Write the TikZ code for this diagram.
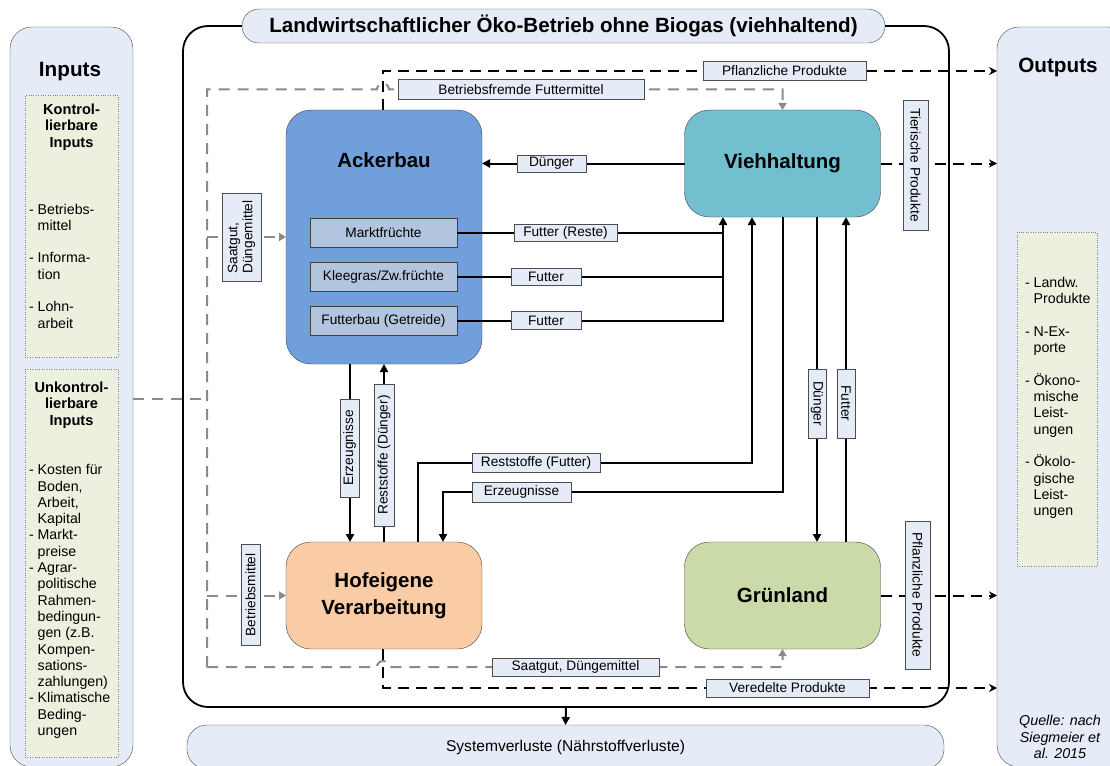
\documentclass[tikz,border=0pt]{standalone}
\usepackage{fontspec}
\setmainfont{Liberation Sans}
\usetikzlibrary{arrows.meta}
\definecolor{panelblue}{RGB}{229,236,247}
\definecolor{notegreen}{RGB}{235,241,222}
\definecolor{ackerblue}{RGB}{113,159,219}
\definecolor{subblue}{RGB}{179,196,222}
\definecolor{viehteal}{RGB}{114,191,208}
\definecolor{hofpeach}{RGB}{250,204,165}
\definecolor{gruengreen}{RGB}{202,218,168}
\definecolor{flowgray}{RGB}{138,138,138}
\newcommand{\subln}{\hphantom{- }}
\tikzset{
    panel/.style={draw=black!70, fill=panelblue, rounded corners=22pt},
    note/.style={draw=black!50, dotted, fill=notegreen},
    unit/.style={draw=black!75, rounded corners=25pt, minimum width=196pt, align=center, font=\fontsize{20.5}{27}\selectfont\bfseries},
    sub/.style={draw=black!75, fill=subblue, minimum width=147pt, minimum height=29pt, font=\fontsize{13.7}{16}\selectfont},
    lbl/.style={draw=black!70, fill=panelblue, inner sep=1pt, align=left, font=\fontsize{13.7}{15}\selectfont},
    listfont/.style={font=\fontsize{14.2}{16.3}\selectfont, align=left, inner sep=0pt},
    flow/.style={line width=2pt},
    flowarr/.style={flow, -{Triangle[length=8pt,width=8pt]}},
    outarr/.style={flow, dash pattern=on 11pt off 7pt, -{Stealth[length=8pt,width=8pt]}},
    grayflow/.style={flowgray, line width=2pt, dash pattern=on 11pt off 8pt},
    grayarr/.style={grayflow, -{Triangle[length=7pt,width=8pt]}}
}

\begin{document}
\begin{tikzpicture}[x=1pt,y=-1pt,every node/.append style={outer sep=0pt}]
\useasboundingbox (0,0) rectangle (1110,765);
\clip (0,0) rectangle (1110,765);

% Inputs and Outputs
\node (inputs) at (71.5,397) [panel, minimum width=123pt, minimum height=740pt] {};
\node (outputs) at (1063.5,397) [panel, minimum width=133pt, minimum height=740pt] {};
\node (inputsT) at (70,72) [font=\fontsize{20.7}{24}\selectfont\bfseries] {Inputs};
\node (outputsT) at (1058,67) [font=\fontsize{20.7}{24}\selectfont\bfseries] {Outputs};
\node (kontr) at (71.5,226) [note, minimum width=93pt, minimum height=262pt] {};
\node (unkontr) at (71.5,563) [note, minimum width=93pt, minimum height=388pt] {};
\node (outbox) at (1057,399) [note, minimum width=80pt, minimum height=334pt] {};
\node (kontrT) at (71.5,127) [font=\fontsize{14.6}{16.5}\selectfont\bfseries, align=center] {Kontrol-\\lierbare\\Inputs};
\node (unkontrT) at (71.5,405) [font=\fontsize{14.6}{16.5}\selectfont\bfseries, align=center] {Unkontrol-\\lierbare\\Inputs};
\node (kontrL) at (29,266) [anchor=west, listfont] {- Betriebs-\\\subln mittel\\[16.3pt]- Informa-\\\subln tion\\[16.3pt]- Lohn-\\\subln arbeit};
\node (unkontrL) at (29,601.5) [anchor=west, listfont] {- Kosten für\\\subln Boden,\\\subln Arbeit,\\\subln Kapital\\- Markt-\\\subln preise\\- Agrar-\\\subln politische\\\subln Rahmen-\\\subln bedingun-\\\subln gen (z.B.\\\subln Kompen-\\\subln sations-\\\subln zahlungen)\\- Klimatische\\\subln Beding-\\\subln ungen};
\node (outL) at (1025,398) [anchor=west, listfont] {- Landw.\\\subln Produkte\\[16.3pt]- N-Ex-\\\subln porte\\[16.3pt]- Ökono-\\\subln mische\\\subln Leist-\\\subln ungen\\[16.3pt]- Ökolo-\\\subln gische\\\subln Leist-\\\subln ungen};
\node (quelle) at (1060,737) [font=\fontsize{14.3}{16.8}\selectfont\itshape, align=center] {Quelle: nach\\Siegmeier et\\al. 2015};

% Betrieb
\node (frame) at (566,366.5) [draw, line width=1.8pt, rounded corners=25pt, minimum width=766pt, minimum height=681pt] {};
\node (titel) at (563.5,26) [draw=black!70, fill=panelblue, rounded corners=17pt, minimum width=643pt, minimum height=34pt, font=\fontsize{20.6}{22}\selectfont\bfseries] {Landwirtschaftlicher Öko-Betrieb ohne Biogas (viehhaltend)};
\node (verl) at (565.5,747) [draw=black!70, fill=panelblue, rounded corners=20pt, minimum width=757pt, minimum height=44pt, font=\fontsize{15.6}{17}\selectfont] {Systemverluste (Nährstoffverluste)};

\node (acker) at (384,237) [unit, fill=ackerblue, minimum height=254pt] {};
\node (ackerT) at (384,160) [font=\fontsize{20.5}{27}\selectfont\bfseries] {Ackerbau};
\node (vieh) at (782.5,163.5) [unit, fill=viehteal, minimum height=107pt] {Viehhaltung};
\node (hof) at (384,595.5) [unit, fill=hofpeach, minimum height=107pt] {Hofeigene\\Verarbeitung};
\node (gruen) at (782.5,595.5) [unit, fill=gruengreen, minimum height=107pt] {Grünland};
\node (markt) at (383.5,232.5) [sub] {Marktfrüchte};
\node (klee) at (383.5,276.5) [sub] {Kleegras/Zw.früchte};
\node (futterbau) at (383.5,320.5) [sub] {Futterbau (Getreide)};

\foreach \n/\x/\y in {gTL/207/89.5, gBL/207/667, gIn/207/399, hopT/377/89.5, hopB/377/667, pTop/383/71, pBot/383/688, pA/723/277, pErz/350/450, pRD/384/450, pRF/752/463, pRFh/418/463, pEZ/783/492, pEZh/443/492, pDu/817/400, pFu/846/400}
    \coordinate (\n) at (\x,\y);

% internal flows
\draw[flowarr] (vieh.west) -- (vieh.west -| acker.east);
\draw[flow] (markt.east) -- (markt.east -| pA);
\draw[flow] (klee.east) -- (klee.east -| pA);
\draw[flowarr] (futterbau.east) -| (vieh.south -| pA);
\draw[flowarr] (pErz |- acker.south) -- (pErz |- hof.north);
\draw[flowarr] (pRD |- hof.north) -- (pRD |- acker.south);
\draw[flowarr] (pRFh |- hof.north) -- (pRFh) -- (pRF) -- (pRF |- vieh.south);
\draw[flowarr] (pEZ |- vieh.south) -- (pEZ) -- (pEZh) -- (pEZh |- hof.north);
\draw[flowarr] (pDu |- vieh.south) -- (pDu |- gruen.north);
\draw[flowarr] (pFu |- gruen.north) -- (pFu |- vieh.south);
\draw[flowarr] (frame.south) -- (verl.north);

% products leaving the farm
\draw[outarr] (acker.north -| pTop) |- (outputs.west |- pTop);
\draw[outarr] (vieh.east) -- (vieh.east -| outputs.west);
\draw[outarr] (gruen.east) -- (gruen.east -| outputs.west);
\draw[outarr] (hof.south -| pBot) |- (outputs.west |- pBot);

% bought-in inputs
\draw[grayflow] (inputs.east |- gIn) -- (gIn);
\draw[grayarr] (gBL) -- (gTL) -- (hopT) arc (180:360:6) -| (vieh.north);
\draw[grayarr] (gBL) -- (hopB) arc (180:360:6) -| (gruen.south);
\draw[grayarr] (gTL |- acker.west) -- (acker.west);
\draw[grayarr] (gTL |- hof.west) -- (hof.west);

\foreach \n/\x/\y/\w/\h/\r/\t in {
    lPfl/784.5/71/163/19/0/Pflanzliche Produkte,
    lFremd/521/89.5/246/20/0/Betriebsfremde Futtermittel,
    lDung/551.5/163.5/69/17/0/Dünger,
    lTier/915.5/165/130/25/-90/Tierische Produkte,
    lSaat/241.5/237/88/39/90/{Saatgut,\\Düngemittel},
    lReste/565.5/232.5/103/17/0/Futter (Reste),
    lF1/546/276.5/70/17/0/Futter,
    lF2/546/320.5/70/18/0/Futter,
    lErz/349.5/448/98/19/90/Erzeugnisse,
    lRestD/384/455/142/20/90/Reststoffe (Dünger),
    lRestF/536/463/128/19/0/Reststoffe (Futter),
    lErz2/521.5/492/99/20/0/Erzeugnisse,
    lDung2/817/403.5/69/18/-90/Dünger,
    lFutt/846/403.5/69/18/-90/Futter,
    lBetr/250.5/595/101/19/90/Betriebsmittel,
    lPfl2/917.5/595/148/25/-90/Pflanzliche Produkte,
    lSaat2/575.5/667/167/18/0/{Saatgut, Düngemittel},
    lVered/787.5/688/163/18/0/Veredelte Produkte}
    \node (\n) at (\x,\y) [lbl, minimum width=\w*1pt, minimum height=\h*1pt, rotate=\r] {\t};
\end{tikzpicture}
\end{document}
